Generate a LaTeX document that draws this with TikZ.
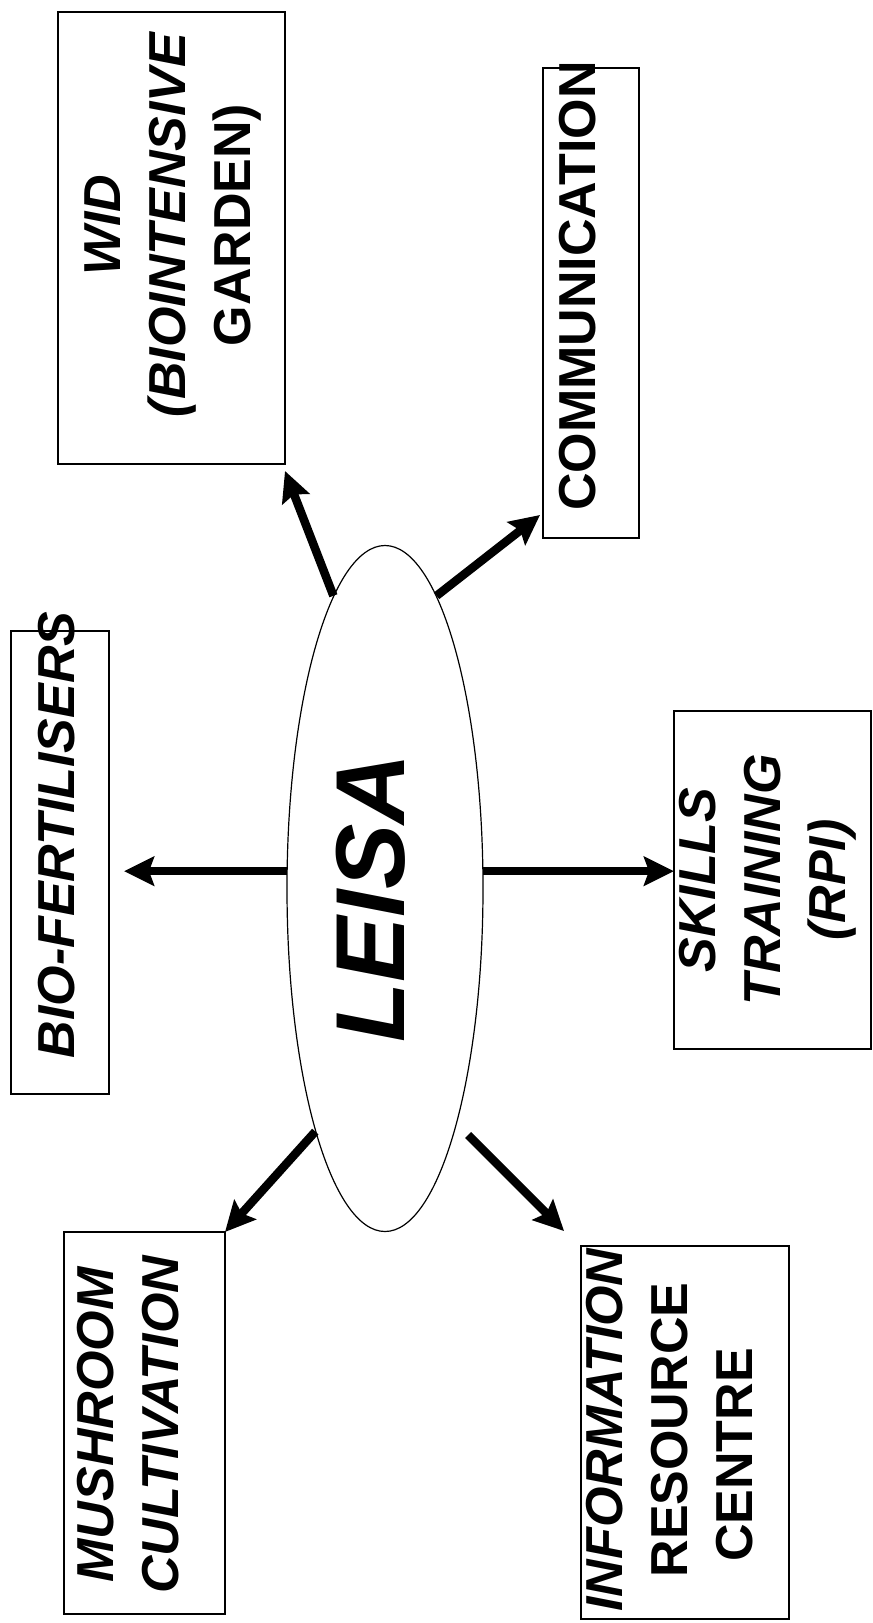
\documentclass[tikz,border=0pt]{standalone}
\usepackage{fontspec}
\setmainfont{Liberation Sans}
\usetikzlibrary{shapes.geometric,arrows.meta}
\begin{document}
\begin{tikzpicture}[x=1pt,y=-1pt,
  box/.style={draw, line width=2.2pt, rectangle, inner sep=0pt, outer sep=0pt},
  lbl/.style={rotate=90, align=center, inner sep=0pt, font=\fontsize{52}{65}\selectfont\bfseries},
  arr/.style={line width=8.5pt, -{Stealth[length=30pt,width=29pt,inset=5pt]}},
  hub/.style={draw, ellipse, line width=1.2pt, inner sep=0pt, minimum width=196pt, minimum height=686pt}]
  \path[fill=white, use as bounding box] (0,0) rectangle (873,1623);

  % outer boxes
  \node[box, minimum width=227pt, minimum height=452pt] (wid)    at (171.5,238) {};
  \node[box, minimum width=96pt,  minimum height=470pt] (comm)   at (591,303) {};
  \node[box, minimum width=98pt,  minimum height=463pt] (bio)    at (60,862.5) {};
  \node[box, minimum width=197pt, minimum height=338pt] (skills) at (772.5,880) {};
  \node[box, minimum width=161pt, minimum height=382pt] (mush)   at (144.5,1423) {};
  \node[box, minimum width=208pt, minimum height=373pt] (info)   at (685,1432.5) {};

  % labels
  \node[lbl] (widtxt)    at (173,225)  {\itshape WID\\\itshape (BIOINTENSIVE\\GARDEN)};
  \node[lbl] (commtxt)   at (578,286)  {COMMUNICATION};
  \node[lbl] (biotxt)    at (57,835)   {\itshape BIO-FERTILISERS};
  \node[lbl] (skillstxt) at (768,880)  {\itshape SKILLS\\\itshape TRAINING\\\itshape (RPI)};
  \node[lbl] (mushtxt)   at (128,1425) {\itshape MUSHROOM\\\itshape CULTIVATION};
  \node[lbl] (infotxt)   at (670,1430) {\itshape INFORMATION\\RESOURCE\hspace*{50pt}\\CENTRE\hspace*{50pt}};

  % central ellipse
  \node[hub] (leisa) at (385,888.5) {};
  \node[rotate=90, inner sep=0pt, font=\fontsize{98}{100}\selectfont\bfseries\itshape] (leisatxt) at (371,898) {LEISA};

  % connectors
  \draw[arr] (leisa.100) -- ([shift={(0,7)}]wid.south east);
  \draw[arr] (leisa.80) -- ([shift={(-3,-23)}]comm.south west);
  \draw[arr, shorten >=15pt] (leisa.170) -- (bio.east |- leisa.170);
  \draw[arr] (leisa.10) -- (skills.west |- leisa.10);
  \draw[arr] (leisa.254) -- (mush.north east);
  \draw[arr, shorten <=16pt] (leisa.287) -- ([shift={(-17,-15)}]info.north west);
\end{tikzpicture}
\end{document}
